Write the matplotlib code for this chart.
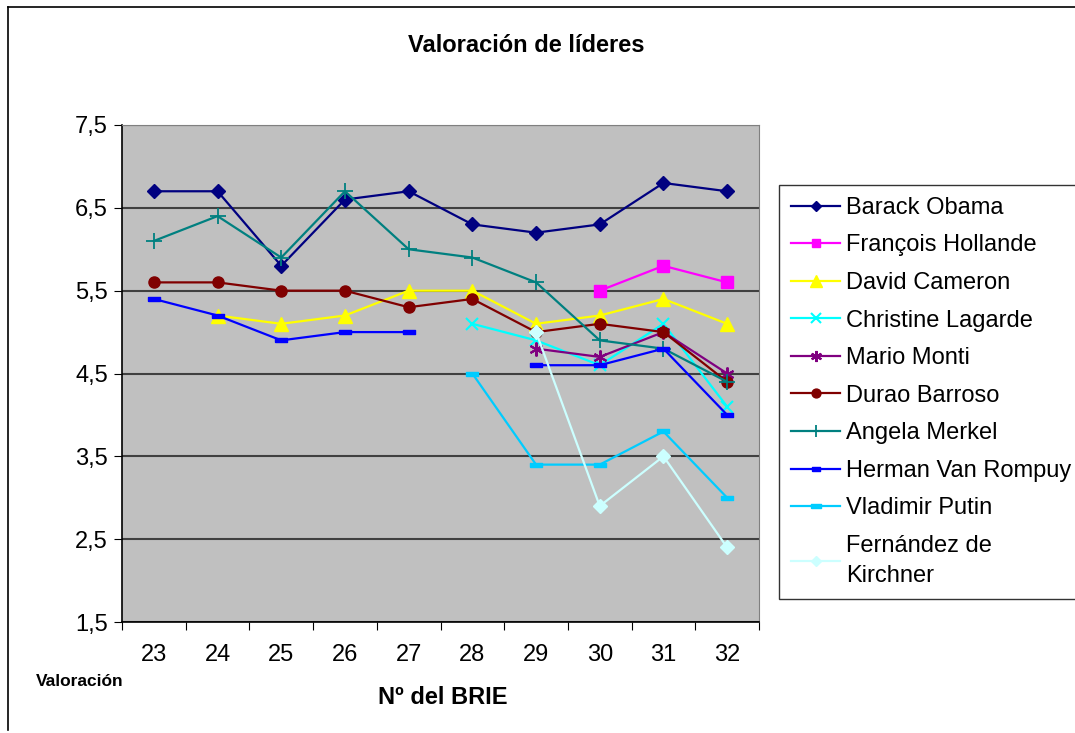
import numpy as np
import matplotlib
matplotlib.use("Agg")
import matplotlib.pyplot as plt
from matplotlib.lines import Line2D

plt.rcParams['font.family'] = ['Liberation Sans', 'DejaVu Sans']

nan = np.nan
brie = ["23", "24", "25", "26", "27", "28", "29", "30", "31", "32"]

obama = [6.7, 6.7, 5.8, 6.6, 6.7, 6.3, 6.2, 6.3, 6.8, 6.7]
hollande = [nan, nan, nan, nan, nan, nan, nan, 5.5, 5.8, 5.6]
cameron = [nan, 5.2, 5.1, 5.2, 5.5, 5.5, 5.1, 5.2, 5.4, 5.1]
lagarde = [nan, nan, nan, nan, nan, 5.1, 4.9, 4.6, 5.1, 4.1]
monti = [nan, nan, nan, nan, nan, nan, 4.8, 4.7, 5.0, 4.5]
barroso = [5.6, 5.6, 5.5, 5.5, 5.3, 5.4, 5.0, 5.1, 5.0, 4.4]
merkel = [6.1, 6.4, 5.9, 6.7, 6.0, 5.9, 5.6, 4.9, 4.8, 4.4]
rompuy = [5.4, 5.2, 4.9, 5.0, 5.0, nan, 4.6, 4.6, 4.8, 4.0]
putin = [nan, nan, nan, nan, nan, 4.5, 3.4, 3.4, 3.8, 3.0]
kirchner = [nan, nan, nan, nan, nan, nan, 5.0, 2.9, 3.5, 2.4]

names = ["Barack Obama", "François Hollande", "David Cameron", "Christine Lagarde",
         "Mario Monti", "Durao Barroso", "Angela Merkel", "Herman Van Rompuy",
         "Vladimir Putin", "Fernández de\nKirchner"]

# flat dash marker like the excel one
dash = [(-1, -0.35), (1, -0.35), (1, 0.35), (-1, 0.35), (-1, -0.35)]

styles = [
    dict(color="#000080", marker="D", ms=7),
    dict(color="#FF00FF", marker="s", ms=8),
    dict(color="#FFFF00", marker="^", ms=10),
    dict(color="#00FFFF", marker="x", ms=9, mew=1.5),
    dict(color="#800080", marker=(6, 2, 0), ms=10, mew=1.5),
    dict(color="#800000", marker="o", ms=8),
    dict(color="#008080", marker="+", ms=11, mew=1.3),
    dict(color="#0000FF", marker=dash, ms=8),
    dict(color="#00CCFF", marker=dash, ms=9),
    dict(color="#CCFFFF", marker="D", ms=7),
]
series = [obama, hollande, cameron, lagarde, monti, barroso, merkel, rompuy, putin, kirchner]

fig = plt.figure(figsize=(10.75, 7.33), dpi=100)
ax = fig.add_axes([122/1075, 1-622/733, (759-122)/1075, (622-125)/733])
ax.set_facecolor("#C0C0C0")

x = np.arange(len(brie))
handles = []
for vals, st in zip(series, styles):
    ax.plot(x, vals, lw=1.6, zorder=3, **st)
    leg_st = dict(st)
    leg_st["ms"] = st["ms"] * 0.8
    handles.append(Line2D([], [], lw=1.6, **leg_st))

ax.set_xlim(-0.5, len(brie) - 0.5)
ax.set_ylim(1.5, 7.5)
yt = np.arange(1.5, 7.6, 1.0)
ax.set_yticks(yt)
ax.set_yticklabels([f"{v:.1f}".replace(".", ",") for v in yt], fontsize=17)
ax.yaxis.grid(True, color="#404040", lw=1.5, zorder=1)
ax.set_xticks(np.arange(-0.5, len(brie), 1.0))
ax.set_xticklabels([])
ax.set_xticks(x, minor=True)
ax.set_xticklabels(brie, minor=True, fontsize=17)
ax.tick_params(axis="x", which="major", length=6, color="black", direction="out")
ax.tick_params(axis="x", which="minor", length=0, pad=16)
ax.tick_params(axis="y", length=6, direction="out", pad=4)
for s in ["top", "right"]:
    ax.spines[s].set_color("#808080")
for s in ["left", "bottom"]:
    ax.spines[s].set_color("black")
    ax.spines[s].set_linewidth(1.2)

fig.text(526/1075, 1-45/733, "Valoración de líderes", ha="center", va="center",
         fontsize=17, fontweight="bold")
fig.text(443/1075, 1-697/733, "Nº del BRIE", ha="center", va="center",
         fontsize=17, fontweight="bold")
fig.text(80/1075, 1-682/733, "Valoración", ha="center", va="center",
         fontsize=12.5, fontweight="bold")

leg = fig.legend(handles, names, loc="upper left", bbox_to_anchor=(779/1075, 1-185/733),
                 fontsize=17, frameon=True, fancybox=False, handlelength=2.1,
                 labelspacing=0.66, borderpad=0.5, handletextpad=0.25, borderaxespad=0)
leg.get_frame().set_edgecolor("black")
leg.get_frame().set_linewidth(1.0)
for t in leg.get_texts():
    t.set_linespacing(1.45)

# outer chart border
fig.add_artist(Line2D([8/1075, 8/1075], [1-7/733, 1-730/733], color="black", lw=1.2))
fig.add_artist(Line2D([8/1075, 1.0], [1-7/733, 1-7/733], color="black", lw=1.2))

fig.savefig("out.png", dpi=100)
